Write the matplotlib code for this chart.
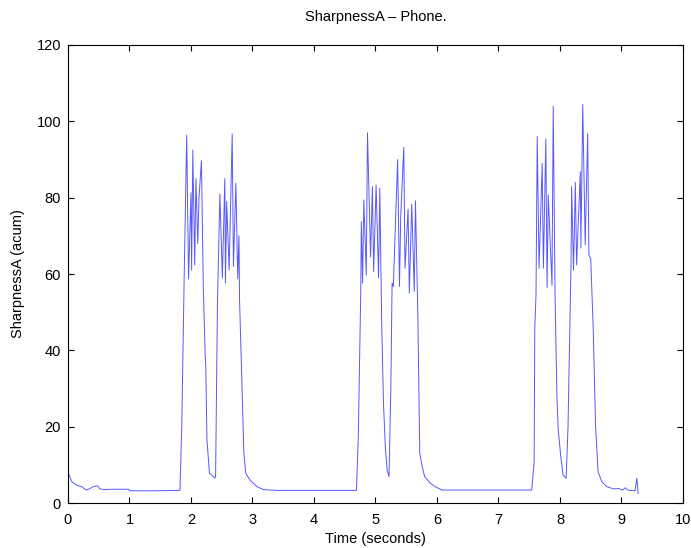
import matplotlib.pyplot as plt
import numpy as np

plt.rcParams["font.family"] = ["Liberation Sans", "DejaVu Sans"]

# leading decay + first baseline
t_start = [0.02, 0.06, 0.14, 0.22, 0.30, 0.36, 0.41, 0.48, 0.52, 0.60, 0.70, 0.85, 0.99, 1.00, 1.40, 1.82]
v_start = [7.3, 5.6, 4.7, 4.3, 3.4, 3.8, 4.3, 4.5, 3.7, 3.5, 3.6, 3.6, 3.6, 3.2, 3.2, 3.3]

# first phone burst
t_b1 = [1.85, 1.89, 1.93, 1.96, 2.00, 2.01, 2.03, 2.06, 2.08, 2.11, 2.13, 2.17, 2.20, 2.23,
        2.24, 2.26, 2.30, 2.39, 2.40, 2.43, 2.47, 2.51, 2.55, 2.56, 2.58, 2.62, 2.67, 2.69,
        2.73, 2.76, 2.78, 2.79, 2.83, 2.86, 2.89, 2.96, 3.07, 3.18, 3.40]
v_b1 = [20.0, 60.0, 96.4, 58.7, 81.3, 61.0, 92.5, 62.4, 85.0, 68.0, 80.0, 89.7, 56.7, 39.0,
        36.0, 16.5, 7.8, 6.5, 7.0, 52.0, 81.0, 59.0, 85.0, 57.6, 79.0, 61.0, 96.7, 62.0,
        83.8, 58.7, 70.0, 53.0, 30.5, 13.0, 7.8, 6.0, 4.3, 3.5, 3.3]

# second phone burst
t_b2 = [4.69, 4.72, 4.76, 4.77, 4.79, 4.81, 4.85, 4.87, 4.92, 4.95, 4.97, 5.01, 5.05, 5.07,
        5.10, 5.13, 5.16, 5.19, 5.22, 5.25, 5.27, 5.29, 5.33, 5.36, 5.39, 5.41, 5.46, 5.48,
        5.53, 5.55, 5.59, 5.63, 5.65, 5.69, 5.72, 5.76, 5.80, 5.89, 5.97, 6.08]
v_b2 = [3.3, 17.0, 55.0, 73.7, 57.6, 79.4, 59.7, 97.0, 64.5, 82.9, 60.6, 83.3, 59.0, 82.5,
        48.0, 26.0, 14.7, 8.6, 6.9, 30.5, 57.6, 56.7, 76.0, 90.0, 56.7, 75.0, 93.2, 61.5,
        77.0, 55.0, 78.3, 55.4, 79.2, 48.0, 13.0, 9.5, 6.9, 5.2, 4.3, 3.4]

# third phone burst + tail
t_b3 = [7.54, 7.58, 7.59, 7.61, 7.63, 7.66, 7.71, 7.73, 7.77, 7.79, 7.81, 7.87, 7.89, 7.92,
        7.95, 7.97, 8.01, 8.05, 8.10, 8.13, 8.16, 8.18, 8.19, 8.22, 8.25, 8.27, 8.33, 8.34,
        8.37, 8.41, 8.45, 8.47, 8.50, 8.54, 8.58, 8.62, 8.68, 8.76, 8.87, 8.95, 9.02, 9.06,
        9.10, 9.22, 9.25, 9.27]
v_b3 = [3.4, 10.8, 45.8, 54.5, 96.0, 61.5, 89.0, 61.5, 95.4, 56.4, 80.7, 57.0, 104.0, 54.5,
        28.0, 19.6, 12.6, 7.3, 6.5, 19.6, 45.8, 63.0, 82.9, 61.0, 84.0, 62.4, 86.8, 66.8,
        104.4, 67.6, 96.8, 65.0, 64.0, 45.8, 19.6, 8.2, 5.6, 4.3, 3.7, 3.8, 3.4, 4.0,
        3.4, 3.2, 6.5, 2.5]

time = np.array(t_start + t_b1 + t_b2 + t_b3)
sharp = np.array(v_start + v_b1 + v_b2 + v_b3)

fig = plt.figure(figsize=(6.91, 5.48), dpi=100)
ax = fig.add_axes([0.0984, 0.0821, 0.89, 0.8358])
ax.plot(time, sharp, color="#5858ff", linewidth=0.7)

ax.set_xlim(0, 10)
ax.set_ylim(0, 120)
ax.set_xticks(np.arange(0, 11, 1))
ax.set_yticks(np.arange(0, 121, 20))
ax.tick_params(direction="in", length=4, labelsize=10.5, top=True, right=True)
ax.tick_params(axis="x", pad=7)
ax.tick_params(axis="y", pad=5)
ax.set_xlabel("Time (seconds)", fontsize=10.5, labelpad=4)
ax.set_ylabel("SharpnessA (acum)", fontsize=10.5, labelpad=8)
ax.set_title("SharpnessA \u2013 Phone.", fontsize=10.5, pad=17)

fig.savefig("out.png", dpi=100)
